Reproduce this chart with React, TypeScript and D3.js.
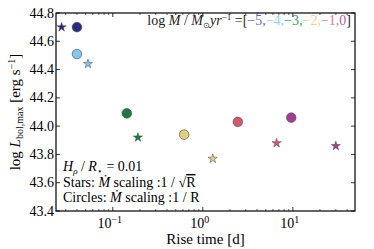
import * as d3 from 'd3'

// mass-loss rates, log Mdot / Msun yr^-1
const mdots = ['−5', '−4', '−3', '−2', '−1', '0']
const markerColors = ['#2b2a86', '#82c9ee', '#1a7d3c', '#e2cf7e', '#d35a6c', '#a13d97']
const labelColors = ['#6b63b5', '#8fd0f0', '#3b9a5c', '#e8d58c', '#e07d92', '#b55aae']

// circles: Mdot scaling 1/R
const circleRise = [0.040, 0.040, 0.143, 0.62, 2.45, 9.6]
const circleLum = [44.70, 44.51, 44.09, 43.94, 44.03, 44.06]
// stars: Mdot scaling 1/sqrt(R)
const starRise = [0.027, 0.053, 0.19, 1.29, 6.6, 30]
const starLum = [44.70, 44.44, 43.92, 43.77, 43.88, 43.86]

const yTicks = [43.4, 43.6, 43.8, 44.0, 44.2, 44.4, 44.6, 44.8]
const xMajors = [0.1, 1, 10]
const xExps = ['−1', '0', '1']

const W = 374
const H = 249
const m = { left: 56, right: 19, top: 13, bottom: 38 }
const ff = 'Liberation Serif'

export default function App() {
  const x = d3.scaleLog().domain([0.0234, 49]).range([m.left, W - m.right])
  const y = d3.scaleLinear().domain([43.4, 44.8]).range([H - m.bottom, m.top])
  const star = d3.symbol().type(d3.symbolStar).size(26)
  const x0 = m.left, x1 = W - m.right, y0 = H - m.bottom, y1 = m.top

  // minor log ticks
  const minors: number[] = []
  for (const dec of [0.01, 0.1, 1, 10]) {
    for (let k = 2; k <= 9; k++) {
      const v = dec * k
      if (v > 0.0234 && v < 49) minors.push(v)
    }
  }

  return (
    <svg width={W} height={H} style={{ position: 'absolute', left: 0, top: 0 }}>
      <rect width={W} height={H} fill="#fff" />
      {/* ticks */}
      {yTicks.map(t => (
        <g key={t}>
          <line x1={x0} x2={x0 + 4} y1={y(t)} y2={y(t)} stroke="#000" strokeWidth={0.8} />
          <line x1={x1} x2={x1 - 4} y1={y(t)} y2={y(t)} stroke="#000" strokeWidth={0.8} />
          <text x={x0 - 2} y={y(t) + 4.5} fontSize={14} textAnchor="end" fontFamily={ff}>{t.toFixed(1)}</text>
        </g>
      ))}
      {xMajors.map((t, i) => (
        <g key={t}>
          <line x1={x(t)} x2={x(t)} y1={y0} y2={y0 - 4} stroke="#000" strokeWidth={0.8} />
          <line x1={x(t)} x2={x(t)} y1={y1} y2={y1 + 4} stroke="#000" strokeWidth={0.8} />
          <text x={x(t) - 3} y={y0 + 17} fontSize={14} textAnchor="middle" fontFamily={ff}>
            10<tspan dy={-5} fontSize={10}>{xExps[i]}</tspan>
          </text>
        </g>
      ))}
      {minors.map(t => (
        <g key={t}>
          <line x1={x(t)} x2={x(t)} y1={y0} y2={y0 - 2} stroke="#000" strokeWidth={0.6} />
          <line x1={x(t)} x2={x(t)} y1={y1} y2={y1 + 2} stroke="#000" strokeWidth={0.6} />
        </g>
      ))}
      <rect x={x0} y={y1} width={x1 - x0} height={y0 - y1} fill="none" stroke="#000" strokeWidth={1.2} />

      {/* markers */}
      {circleRise.map((t, i) => (
        <circle key={'c' + i} cx={x(t)} cy={y(circleLum[i])} r={4.8} fill={markerColors[i]} stroke="#444" strokeWidth={0.6} />
      ))}
      {starRise.map((t, i) => (
        <path key={'s' + i} d={star() || ''} transform={`translate(${x(t)},${y(starLum[i])})`} fill={markerColors[i]} stroke="#444" strokeWidth={0.5} />
      ))}

      {/* legend title */}
      <text x={x1 - 4} y={y1 + 12} fontSize={14} textAnchor="end" fontFamily={ff}>
        <tspan fill="#222">log </tspan>
        <tspan fill="#222" fontStyle="italic">Ṁ</tspan>
        <tspan fill="#222"> / </tspan>
        <tspan fill="#222" fontStyle="italic">M</tspan>
        <tspan fill="#222" fontSize={8} dy={3}>⊙</tspan>
        <tspan fill="#222" fontStyle="italic" dy={-3}>yr</tspan>
        <tspan fill="#222" fontSize={9} dy={-5}>−1</tspan>
        <tspan fill="#222" dy={5}> =[</tspan>
        {mdots.map((v, i) => (
          <tspan key={v} fill={labelColors[i]}>{v}{i < mdots.length - 1 ? ',' : ''}</tspan>
        ))}
        <tspan fill="#222">]</tspan>
      </text>

      {/* annotations */}
      <text x={x0 + 7} y={y0 - 40} fontSize={14} fontFamily={ff}>
        <tspan fontStyle="italic">H</tspan><tspan fontSize={9} dy={3} fontStyle="italic">ρ</tspan>
        <tspan dy={-3}> / </tspan><tspan fontStyle="italic">R</tspan><tspan fontSize={9} dy={3}>⋆</tspan>
        <tspan dy={-3}> = 0.01</tspan>
      </text>
      <text x={x0 + 7} y={y0 - 24} fontSize={14} fontFamily={ff}>
        Stars: <tspan fontStyle="italic">Ṁ</tspan> scaling :1 / √<tspan textDecoration="overline">R</tspan>
      </text>
      <text x={x0 + 7} y={y0 - 9} fontSize={14} fontFamily={ff}>
        Circles: <tspan fontStyle="italic">Ṁ</tspan> scaling :1 / R
      </text>

      {/* axis labels */}
      <text x={(x0 + x1) / 2} y={H - 5} fontSize={15} textAnchor="middle" fontFamily={ff}>Rise time [d]</text>
      <text transform={`translate(20,${(y0 + y1) / 2}) rotate(-90)`} fontSize={15} textAnchor="middle" fontFamily={ff}>
        log <tspan fontStyle="italic">L</tspan><tspan fontSize={10} dy={3}>bol,max</tspan>
        <tspan dy={-3}> [erg s</tspan><tspan fontSize={10} dy={-5}>−1</tspan><tspan dy={5}>]</tspan>
      </text>
    </svg>
  )
}
